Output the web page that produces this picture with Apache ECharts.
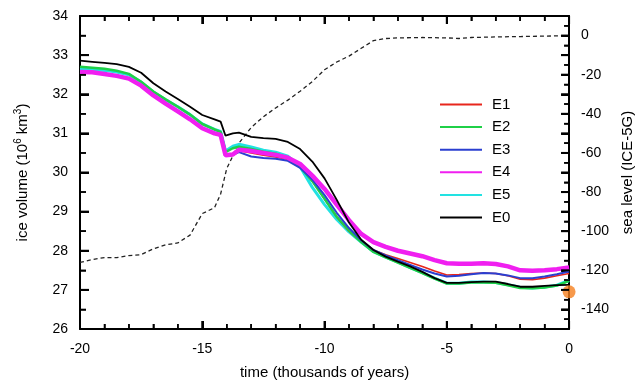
<!DOCTYPE html>
<html>
<head>
<meta charset="utf-8">
<script src="https://cdn.jsdelivr.net/npm/echarts@6/dist/echarts.min.js"></script>
<style>
  html, body { margin: 0; padding: 0; background: #fff; }
  #chart { width: 643px; height: 385px; }
</style>
</head>
<body>
<div id="chart"></div>
<script>
// time axis in thousands of years (shared by the ice volume runs)
const years = [-20, -19.5, -19, -18.5, -18, -17.5, -17, -16.5, -16, -15.5, -15, -14.5, -14.25, -14.05, -13.75,
  -13.5, -13, -12.5, -12, -11.5, -11, -10.5, -10, -9.5, -9, -8.5, -8, -7.5, -7, -6.5, -6, -5.5, -5,
  -4.5, -4, -3.5, -3, -2.5, -2, -1.5, -1, -0.5, 0]

// ice volume, 10^6 km^3
const e1 = [32.58, 32.56, 32.52, 32.47, 32.40, 32.22, 31.97, 31.76, 31.56, 31.36, 31.13, 31.00, 30.95, 30.42, 30.47,
  30.56, 30.50, 30.44, 30.40, 30.33, 30.15, 29.78, 29.32, 28.86, 28.50, 28.22, 28.02, 27.90, 27.80, 27.70, 27.60, 27.48, 27.38,
  27.39, 27.42, 27.43, 27.42, 27.36, 27.27, 27.26, 27.30, 27.36, 27.42]
const e2 = [32.70, 32.68, 32.65, 32.60, 32.52, 32.32, 32.07, 31.87, 31.68, 31.48, 31.24, 31.10, 31.04, 30.52, 30.62,
  30.66, 30.60, 30.53, 30.48, 30.38, 30.15, 29.78, 29.33, 28.87, 28.52, 28.22, 27.97, 27.83, 27.70, 27.56, 27.43, 27.29, 27.16,
  27.16, 27.19, 27.19, 27.18, 27.12, 27.05, 27.04, 27.06, 27.11, 27.23]
const e3 = [32.57, 32.55, 32.51, 32.46, 32.39, 32.21, 31.96, 31.75, 31.55, 31.35, 31.12, 30.99, 30.94, 30.42, 30.45,
  30.52, 30.41, 30.37, 30.35, 30.30, 30.12, 29.82, 29.42, 28.97, 28.58, 28.27, 28.02, 27.88, 27.76, 27.64, 27.52, 27.42, 27.34,
  27.36, 27.40, 27.43, 27.42, 27.37, 27.30, 27.30, 27.34, 27.40, 27.47]
const e4 = [32.57, 32.56, 32.52, 32.47, 32.40, 32.22, 31.97, 31.76, 31.56, 31.36, 31.13, 31.00, 30.96, 30.44, 30.46,
  30.58, 30.55, 30.50, 30.45, 30.38, 30.22, 29.92, 29.58, 29.18, 28.78, 28.43, 28.22, 28.10, 28.00, 27.93, 27.86, 27.76, 27.68,
  27.67, 27.67, 27.68, 27.66, 27.60, 27.50, 27.49, 27.50, 27.53, 27.57]
const e5 = [32.64, 32.63, 32.61, 32.57, 32.50, 32.31, 32.06, 31.86, 31.68, 31.48, 31.24, 31.10, 31.05, 30.55, 30.67,
  30.72, 30.65, 30.57, 30.52, 30.42, 30.15, 29.62, 29.18, 28.80, 28.48, 28.22, 27.98, 27.84, 27.71, 27.57, 27.44, 27.30, 27.17,
  27.17, 27.20, 27.20, 27.19, 27.13, 27.07, 27.05, 27.07, 27.12, 27.24]
const e0 = [32.86, 32.83, 32.80, 32.77, 32.70, 32.55, 32.28, 32.07, 31.88, 31.68, 31.47, 31.36, 31.30, 30.94, 31.00,
  31.02, 30.91, 30.88, 30.86, 30.78, 30.60, 30.28, 29.85, 29.30, 28.72, 28.28, 28.02, 27.85, 27.72, 27.60, 27.46, 27.30, 27.18,
  27.18, 27.20, 27.21, 27.21, 27.15, 27.08, 27.08, 27.10, 27.12, 27.13]

// ICE-5G sea level (m)
const seaYears = [-20, -19.5, -19, -18.5, -18, -17.5, -17, -16.5, -16, -15.5, -15, -14.5, -14.25, -14, -13.5, -13,
  -12.5, -12, -11.5, -11, -10.5, -10, -9.5, -9, -8.5, -8, -7.5, -7, -6, -5, -4.5, -4, -3, -2, -1, 0]
const seaLevel = [-116, -114.5, -113.5, -113.5, -112.5, -112, -109, -107, -106, -102, -91, -88, -81, -68, -55, -47,
  -41.5, -37, -33, -28.5, -23.5, -17.5, -13.5, -10.5, -6.5, -2.6, -1.5, -1.2, -1, -1.2, -1.5, -1, -0.7, -0.5, -0.3, 0]

// present-day observed volume
const presentDay = [[0, 26.95]]

const runs = [
  { name: "E1", data: e1, color: "#e8261c", width: 1.6, z: 3 },
  { name: "E2", data: e2, color: "#1fd047", width: 2.5, z: 4 },
  { name: "E3", data: e3, color: "#2b3fd0", width: 2, z: 5 },
  { name: "E4", data: e4, color: "#f01ff0", width: 4.5, z: 6 },
  { name: "E5", data: e5, color: "#22e2e2", width: 3, z: 2 },
  { name: "E0", data: e0, color: "#000000", width: 1.8, z: 7 },
]

const FONT = "Liberation Sans"
const T_MIN = -20, T_MAX = 0
const ICE_MIN = 26, ICE_MAX = 34
const SEA_MIN = -150, SEA_MAX = 10

const boxLine = { show: true, onZero: false, lineStyle: { color: "#000", width: 2 } }
const tick = (len) => ({ show: true, inside: true, length: len, lineStyle: { color: "#000", width: 2 } })
const minor = (n, len) => ({ show: true, splitNumber: n, length: len, lineStyle: { color: "#000", width: 1.5 } })

const chart = echarts.init(document.getElementById("chart"))

chart.setOption({
  animation: false,
  backgroundColor: "#fff",
  textStyle: { fontFamily: FONT },
  grid: { left: 80, right: 70, top: 16, bottom: 54 },
  legend: {
    orient: "vertical",
    left: 434,
    top: 92,
    itemWidth: 42,
    itemHeight: 14,
    itemGap: 7.6,
    data: runs.map((r) => r.name),
    itemStyle: { opacity: 0 },
    textStyle: { fontFamily: FONT, fontSize: 15, color: "#000", padding: [0, 0, 0, 5] },
  },
  xAxis: [
    {
      type: "value",
      min: T_MIN,
      max: T_MAX,
      interval: 5,
      position: "bottom",
      name: "time (thousands of years)",
      nameLocation: "middle",
      nameGap: 36,
      nameTextStyle: { fontFamily: FONT, fontSize: 15, color: "#000" },
      axisLine: boxLine,
      axisTick: tick(8),
      minorTick: minor(5, 5),
      axisLabel: { fontFamily: FONT, fontSize: 14, color: "#000", margin: 13 },
      splitLine: { show: false },
    },
    {
      type: "value",
      min: T_MIN,
      max: T_MAX,
      interval: 5,
      position: "top",
      axisLine: boxLine,
      axisTick: tick(8),
      minorTick: minor(5, 5),
      axisLabel: { show: false },
      splitLine: { show: false },
    },
  ],
  yAxis: [
    {
      type: "value",
      min: ICE_MIN,
      max: ICE_MAX,
      interval: 1,
      position: "left",
      name: "{a|ice volume (10}{s|6}{a| km}{s|3}{a|)}",
      nameLocation: "middle",
      nameGap: 50,
      nameTextStyle: {
        rich: {
          a: { fontFamily: FONT, fontSize: 15, color: "#000", lineHeight: 17, verticalAlign: "bottom" },
          s: { fontFamily: FONT, fontSize: 10, color: "#000", lineHeight: 10, verticalAlign: "top" },
        },
      },
      axisLine: boxLine,
      axisTick: tick(9),
      minorTick: minor(2, 6),
      axisLabel: { fontFamily: FONT, fontSize: 14, color: "#000", margin: 12 },
      splitLine: { show: false },
    },
    {
      type: "value",
      min: SEA_MIN,
      max: SEA_MAX,
      interval: 10,
      position: "right",
      name: "sea level (ICE-5G)",
      nameLocation: "middle",
      nameGap: 50,
      nameTextStyle: { fontFamily: FONT, fontSize: 15, color: "#000" },
      axisLine: boxLine,
      axisTick: tick(8),
      minorTick: minor(2, 5),
      axisLabel: {
        fontFamily: FONT,
        fontSize: 14,
        color: "#000",
        margin: 12,
        formatter: (v) => (v % 20 === 0 && v <= 0 ? String(v) : ""),
      },
      splitLine: { show: false },
    },
  ],
  series: [
    ...runs.map((r) => ({
      name: r.name,
      type: "line",
      data: years.map((t, i) => [t, r.data[i]]),
      symbol: "none",
      z: r.z,
      lineStyle: { color: r.color, width: r.width },
      itemStyle: { color: r.color },
    })),
    {
      name: "sea level",
      type: "line",
      yAxisIndex: 1,
      data: seaYears.map((t, i) => [t, seaLevel[i]]),
      symbol: "none",
      z: 1,
      lineStyle: { color: "#222", width: 1.3, type: [4, 3] },
    },
    {
      name: "present",
      type: "scatter",
      data: presentDay,
      symbolSize: 13,
      z: 10,
      itemStyle: { color: "#f5801e" },
    },
  ],
})

// inward ticks as graphic lines, placed through the axes' own scales
// (the inside axis ticks did not show on the left/bottom/top edges)
const toIce = (t, v) => chart.convertToPixel({ xAxisIndex: 0, yAxisIndex: 0 }, [t, v])
const toSea = (t, s) => chart.convertToPixel({ xAxisIndex: 0, yAxisIndex: 1 }, [t, s])
const seg = (p, dx, dy, w) => ({
  type: "line",
  z: 100,
  silent: true,
  shape: { x1: p[0], y1: p[1], x2: p[0] + dx, y2: p[1] + dy },
  style: { stroke: "#000", lineWidth: w },
})

const tickMarks = []
for (let t = T_MIN; t <= T_MAX; t += 1) {
  const major = t % 5 === 0
  const len = major ? 8 : 5
  const w = major ? 2 : 1.5
  tickMarks.push(seg(toIce(t, ICE_MIN), 0, -len, w))
  tickMarks.push(seg(toIce(t, ICE_MAX), 0, len, w))
}
for (let v = ICE_MIN; v <= ICE_MAX; v += 0.5) {
  const major = v % 1 === 0
  tickMarks.push(seg(toIce(T_MIN, v), major ? 9 : 6, 0, major ? 2 : 1.5))
}
for (let s = SEA_MIN; s <= SEA_MAX; s += 5) {
  const major = s % 10 === 0
  tickMarks.push(seg(toSea(T_MAX, s), major ? -8 : -5, 0, major ? 2 : 1.5))
}

chart.setOption({ graphic: { elements: tickMarks } })
</script>
</body>
</html>
